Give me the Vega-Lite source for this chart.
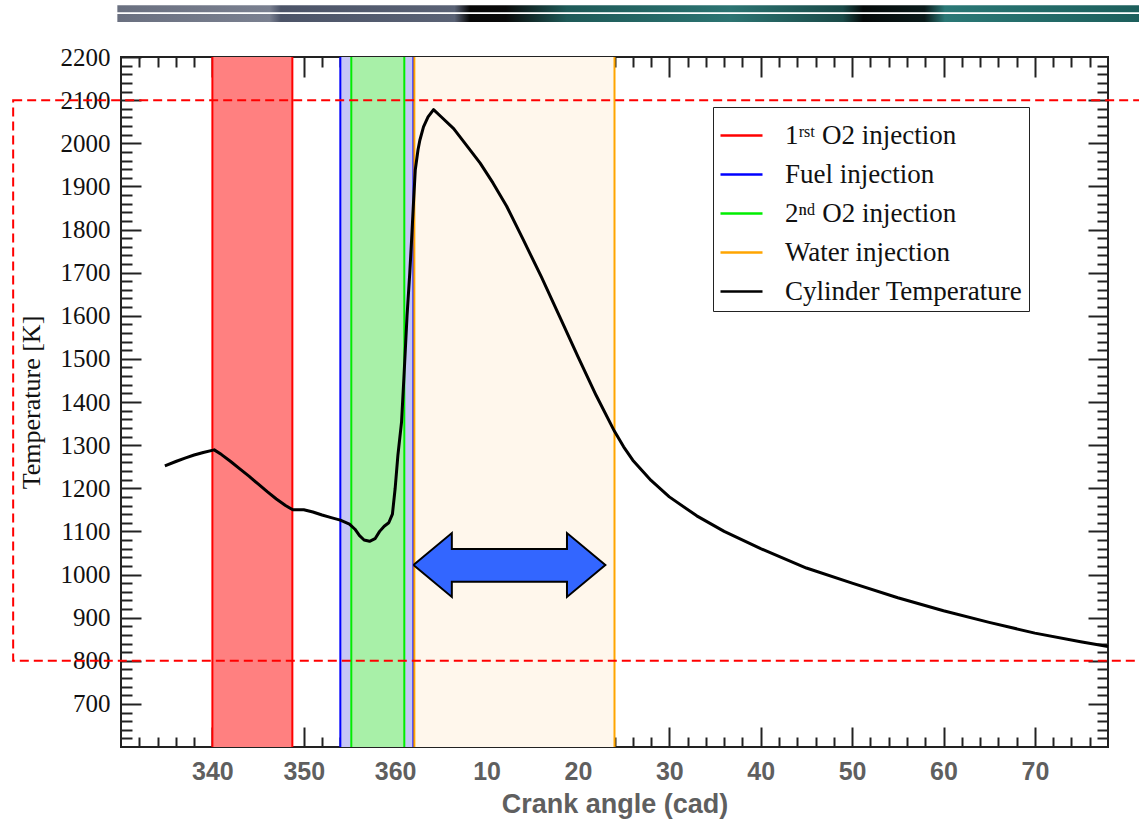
{
  "$schema": "https://vega.github.io/schema/vega-lite/v6.json",
  "width": 987,
  "height": 690,
  "autosize": {"type": "none"},
  "padding": {"left": 121, "top": 57, "right": 31, "bottom": 75},
  "background": "white",
  "config": {
    "view": {"stroke": "#222222", "strokeWidth": 2},
    "legend": {
      "orient": "none",
      "legendX": 592,
      "legendY": 50,
      "symbolType": "stroke",
      "symbolSize": 1764,
      "symbolStrokeWidth": 2.5,
      "labelFont": "Liberation Serif",
      "labelFontSize": 27,
      "labelColor": "#111111",
      "labelOffset": 21,
      "labelLimit": 400,
      "rowPadding": 3,
      "padding": 6,
      "strokeColor": "#222222",
      "fillColor": "white",
      "title": null
    }
  },
  "datasets": {
    "curve": [
      {"angle": 334.8, "temp": 1252}, {"angle": 336.0, "temp": 1262},
      {"angle": 337.0, "temp": 1270}, {"angle": 338.0, "temp": 1277}, {"angle": 339.0, "temp": 1283},
      {"angle": 340.2, "temp": 1289}, {"angle": 341.0, "temp": 1278}, {"angle": 342.0, "temp": 1262},
      {"angle": 343.0, "temp": 1245}, {"angle": 344.0, "temp": 1228}, {"angle": 345.0, "temp": 1210},
      {"angle": 346.0, "temp": 1192}, {"angle": 347.0, "temp": 1175}, {"angle": 348.0, "temp": 1160},
      {"angle": 348.8, "temp": 1150}, {"angle": 350.0, "temp": 1150}, {"angle": 351.0, "temp": 1145},
      {"angle": 352.0, "temp": 1138}, {"angle": 353.0, "temp": 1132}, {"angle": 354.0, "temp": 1126},
      {"angle": 355.0, "temp": 1117}, {"angle": 355.6, "temp": 1105}, {"angle": 356.1, "temp": 1090},
      {"angle": 356.6, "temp": 1080}, {"angle": 357.2, "temp": 1077}, {"angle": 357.8, "temp": 1083},
      {"angle": 358.3, "temp": 1100}, {"angle": 358.8, "temp": 1112}, {"angle": 359.3, "temp": 1120},
      {"angle": 359.7, "temp": 1140}, {"angle": 360.0, "temp": 1200}, {"angle": 360.3, "temp": 1277},
      {"angle": 360.7, "temp": 1354}, {"angle": 360.95, "temp": 1454}, {"angle": 361.3, "temp": 1600},
      {"angle": 361.6, "temp": 1700}, {"angle": 361.8, "temp": 1777}, {"angle": 362.0, "temp": 1860},
      {"angle": 362.2, "temp": 1938}, {"angle": 362.5, "temp": 1985}, {"angle": 362.7, "temp": 2007},
      {"angle": 363.1, "temp": 2038}, {"angle": 363.6, "temp": 2061}, {"angle": 364.2, "temp": 2078},
      {"angle": 365.0, "temp": 2062}, {"angle": 366.4, "temp": 2034}, {"angle": 368.0, "temp": 1990},
      {"angle": 369.3, "temp": 1954}, {"angle": 370.7, "temp": 1908}, {"angle": 372.2, "temp": 1854},
      {"angle": 374.0, "temp": 1777}, {"angle": 376.0, "temp": 1690}, {"angle": 378.0, "temp": 1598},
      {"angle": 380.0, "temp": 1505}, {"angle": 382.0, "temp": 1415}, {"angle": 384.0, "temp": 1332},
      {"angle": 385.0, "temp": 1296}, {"angle": 386.0, "temp": 1265}, {"angle": 388.0, "temp": 1218},
      {"angle": 390.0, "temp": 1180}, {"angle": 393.0, "temp": 1136}, {"angle": 396.0, "temp": 1100},
      {"angle": 400.0, "temp": 1060}, {"angle": 405.0, "temp": 1015}, {"angle": 410.0, "temp": 980},
      {"angle": 415.0, "temp": 946}, {"angle": 420.0, "temp": 916}, {"angle": 425.0, "temp": 889},
      {"angle": 430.0, "temp": 864}, {"angle": 435.0, "temp": 844}, {"angle": 438.0, "temp": 833}
    ],
    "bands": [
      {"band": "red", "start": 340.0, "end": 348.75},
      {"band": "blue", "start": 354.0, "end": 362.0},
      {"band": "green", "start": 355.2, "end": 361.0},
      {"band": "orange", "start": 362.1, "end": 384.0}
    ],
    "edges": [
      {"series": "1ʳˢᵗ O2 injection", "x": 340.0},
      {"series": "1ʳˢᵗ O2 injection", "x": 348.75},
      {"series": "Fuel injection", "x": 354.0},
      {"series": "Fuel injection", "x": 362.0},
      {"series": "2ⁿᵈ O2 injection", "x": 355.2},
      {"series": "2ⁿᵈ O2 injection", "x": 361.0},
      {"series": "Water injection", "x": 362.1},
      {"series": "Water injection", "x": 384.0}
    ],
    "arrow": [
      {"ord": 1, "x": 362.0, "y": 1022},
      {"ord": 2, "x": 366.2, "y": 1096},
      {"ord": 3, "x": 366.2, "y": 1059},
      {"ord": 4, "x": 378.8, "y": 1059},
      {"ord": 5, "x": 378.8, "y": 1096},
      {"ord": 6, "x": 383.0, "y": 1022},
      {"ord": 7, "x": 378.8, "y": 948},
      {"ord": 8, "x": 378.8, "y": 983},
      {"ord": 9, "x": 366.2, "y": 983},
      {"ord": 10, "x": 366.2, "y": 948},
      {"ord": 11, "x": 362.0, "y": 1022}
    ]
  },
  "resolve": {"axis": {"x": "independent", "y": "independent"}},
  "layer": [
    {
      "data": {"values": [{}]},
      "mark": {"type": "rect", "clip": false, "fill": {"gradient": "linear", "x1": 0, "y1": 0, "x2": 1, "y2": 0, "stops": [
        {"offset": 0, "color": "#6a7080"}, {"offset": 0.149, "color": "#7a8090"}, {"offset": 0.16, "color": "#4c5468"},
        {"offset": 0.33, "color": "#5a6275"}, {"offset": 0.345, "color": "#080808"}, {"offset": 0.38, "color": "#0a0a0a"},
        {"offset": 0.44, "color": "#1e5a58"}, {"offset": 0.6, "color": "#2c7472"}, {"offset": 0.71, "color": "#1a4a48"},
        {"offset": 0.73, "color": "#050a0a"}, {"offset": 0.79, "color": "#0a1a1a"}, {"offset": 0.81, "color": "#2a7876"},
        {"offset": 1, "color": "#1d5f5c"}]}},
      "encoding": {
        "x": {"datum": 329.6, "type": "quantitative", "axis": null},
        "x2": {"datum": 441.4},
        "y": {"datum": 2320, "type": "quantitative", "axis": null},
        "y2": {"datum": 2304}
      }
    },
    {
      "data": {"values": [{}]},
      "mark": {"type": "rect", "clip": false, "fill": {"gradient": "linear", "x1": 0, "y1": 0, "x2": 1, "y2": 0, "stops": [
        {"offset": 0, "color": "#6a7080"}, {"offset": 0.149, "color": "#7a8090"}, {"offset": 0.16, "color": "#4c5468"},
        {"offset": 0.33, "color": "#5a6275"}, {"offset": 0.345, "color": "#080808"}, {"offset": 0.38, "color": "#0a0a0a"},
        {"offset": 0.44, "color": "#1e5a58"}, {"offset": 0.6, "color": "#2c7472"}, {"offset": 0.71, "color": "#1a4a48"},
        {"offset": 0.73, "color": "#050a0a"}, {"offset": 0.79, "color": "#0a1a1a"}, {"offset": 0.81, "color": "#2a7876"},
        {"offset": 1, "color": "#1d5f5c"}]}},
      "encoding": {
        "x": {"datum": 329.6, "type": "quantitative", "axis": null},
        "x2": {"datum": 441.4},
        "y": {"datum": 2300, "type": "quantitative", "axis": null},
        "y2": {"datum": 2281}
      }
    },
    {
      "data": {"name": "bands"},
      "mark": {"type": "rect"},
      "encoding": {
        "x": {"field": "start", "type": "quantitative", "axis": null},
        "x2": {"field": "end"},
        "fill": {"field": "band", "type": "nominal", "legend": null,
          "scale": {"domain": ["red", "blue", "green", "orange"], "range": ["#ff8080", "#c6c6f6", "#a8f0a8", "#fff7ec"]}}
      }
    },
    {
      "data": {"name": "edges"},
      "mark": {"type": "rule", "strokeWidth": 2},
      "encoding": {
        "x": {"field": "x", "type": "quantitative", "axis": null},
        "stroke": {"field": "series", "type": "nominal",
          "scale": {"domain": ["1ʳˢᵗ O2 injection", "Fuel injection", "2ⁿᵈ O2 injection", "Water injection", "Cylinder Temperature"],
                    "range": ["#ff0000", "#0000ff", "#00ee00", "#ffa500", "#000000"]}}
      }
    },
    {
      "data": {"name": "curve"},
      "mark": {"type": "line", "strokeWidth": 3, "strokeJoin": "round"},
      "encoding": {
        "x": {"field": "angle", "type": "quantitative",
          "scale": {"domain": [330, 438], "nice": false, "zero": false},
          "axis": {
            "orient": "bottom",
            "values": [332,334,336,338,340,342,344,346,348,350,352,354,356,358,360,362,364,366,368,370,372,374,376,378,380,382,384,386,388,390,392,394,396,398,400,402,404,406,408,410,412,414,416,418,420,422,424,426,428,430,432,434,436],
            "labelExpr": "datum.value % 10 === 0 ? (datum.value > 360 ? datum.value - 360 : datum.value) : ''",
            "labelFont": "Liberation Sans", "labelFontWeight": "bold", "labelFontSize": 25, "labelColor": "#5f5f5f",
            "labelPadding": 32, "labelFlush": false, "labelOverlap": false, "labelBound": false,
            "tickSize": {"condition": {"test": "datum.value % 10 === 0", "value": -20}, "value": -10},
            "tickColor": "#222222", "tickWidth": 2, "domain": false, "grid": false,
            "title": "Crank angle (cad)",
            "titleFont": "Liberation Sans", "titleFontWeight": "bold", "titleFontSize": 27, "titleColor": "#5f5f5f", "titlePadding": -3
          }},
        "y": {"field": "temp", "type": "quantitative",
          "scale": {"domain": [600, 2200], "nice": false, "zero": false},
          "axis": {
            "orient": "left",
            "values": [620,640,660,680,700,720,740,760,780,800,820,840,860,880,900,920,940,960,980,1000,1020,1040,1060,1080,1100,1120,1140,1160,1180,1200,1220,1240,1260,1280,1300,1320,1340,1360,1380,1400,1420,1440,1460,1480,1500,1520,1540,1560,1580,1600,1620,1640,1660,1680,1700,1720,1740,1760,1780,1800,1820,1840,1860,1880,1900,1920,1940,1960,1980,2000,2020,2040,2060,2080,2100,2120,2140,2160,2180,2200],
            "labelExpr": "datum.value % 100 === 0 && datum.value > 600 ? datum.value : ''",
            "labelFont": "Liberation Serif", "labelFontSize": 25, "labelColor": "#111111",
            "labelPadding": 31, "labelFlush": false, "labelOverlap": false, "labelBound": false,
            "tickSize": {"condition": {"test": "datum.value % 100 === 0", "value": -20}, "value": -11},
            "tickColor": "#222222", "tickWidth": 2, "domain": false, "grid": false,
            "title": "Temperature [K]",
            "titleFont": "Liberation Serif", "titleFontWeight": "normal", "titleFontSize": 26, "titleColor": "#111111", "titlePadding": 16
          }},
        "stroke": {"datum": "Cylinder Temperature", "type": "nominal"}
      }
    },
    {
      "data": {"values": [{}]},
      "mark": {"type": "rect", "clip": false, "fill": "transparent", "stroke": "#ff0000", "strokeWidth": 2, "strokeDash": [9, 5]},
      "encoding": {
        "x": {"datum": 318.2, "type": "quantitative", "axis": null},
        "x2": {"datum": 450},
        "y": {"datum": 2100, "type": "quantitative", "axis": null},
        "y2": {"datum": 800}
      }
    },
    {
      "data": {"name": "arrow"},
      "mark": {"type": "line", "fill": "#3366ff", "stroke": "#000000", "strokeWidth": 2, "strokeJoin": "miter"},
      "encoding": {
        "x": {"field": "x", "type": "quantitative",
          "axis": {
            "orient": "top",
            "values": [332,334,336,338,340,342,344,346,348,350,352,354,356,358,360,362,364,366,368,370,372,374,376,378,380,382,384,386,388,390,392,394,396,398,400,402,404,406,408,410,412,414,416,418,420,422,424,426,428,430,432,434,436],
            "labels": false, "domain": false, "grid": false, "title": null,
            "tickSize": {"condition": {"test": "datum.value % 10 === 0", "value": -20}, "value": -10},
            "tickColor": "#222222", "tickWidth": 2
          }},
        "y": {"field": "y", "type": "quantitative",
          "axis": {
            "orient": "right",
            "values": [620,640,660,680,700,720,740,760,780,800,820,840,860,880,900,920,940,960,980,1000,1020,1040,1060,1080,1100,1120,1140,1160,1180,1200,1220,1240,1260,1280,1300,1320,1340,1360,1380,1400,1420,1440,1460,1480,1500,1520,1540,1560,1580,1600,1620,1640,1660,1680,1700,1720,1740,1760,1780,1800,1820,1840,1860,1880,1900,1920,1940,1960,1980,2000,2020,2040,2060,2080,2100,2120,2140,2160,2180],
            "labels": false, "domain": false, "grid": false, "title": null,
            "tickSize": {"condition": {"test": "datum.value % 100 === 0", "value": -20}, "value": -11},
            "tickColor": "#222222", "tickWidth": 2
          }},
        "order": {"field": "ord", "type": "quantitative"}
      }
    }
  ]
}
